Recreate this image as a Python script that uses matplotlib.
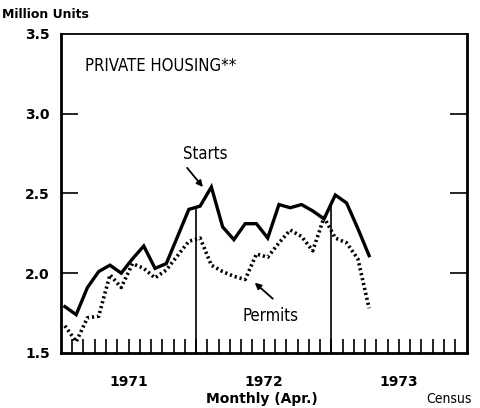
import numpy as np
import matplotlib.pyplot as plt
from matplotlib import font_manager

# monthly values, Jan 1971 .. Apr 1973 (million units, annual rate)
starts = [1.79, 1.74, 1.91, 2.01, 2.05, 2.00, 2.09, 2.17, 2.03, 2.06, 2.23, 2.40,
          2.42, 2.54, 2.29, 2.21, 2.31, 2.31, 2.22, 2.43, 2.41, 2.43, 2.39, 2.34,
          2.49, 2.44, 2.28, 2.11]
permits = [1.67, 1.57, 1.72, 1.73, 1.99, 1.91, 2.06, 2.03, 1.97, 2.02, 2.11, 2.20,
           2.22, 2.05, 2.01, 1.98, 1.96, 2.12, 2.10, 2.19, 2.27, 2.23, 2.14, 2.35,
           2.22, 2.19, 2.09, 1.78]
years = ["1971", "1972", "1973"]
yticks = [1.5, 2.0, 2.5, 3.0, 3.5]

# look for a narrow, regular-weight face for the label text
narrow = None
for f in font_manager.fontManager.ttflist:
    is_narrow = f.stretch in ("condensed", "semi-condensed") or "Condensed" in f.fname \
        or "Narrow" in f.name
    if is_narrow and f.style == "normal" and f.weight in (400, "normal", "regular", "book"):
        narrow = f
        break


def ntext(target, xx, yy, s, size, **kw):
    fp = font_manager.FontProperties(fname=narrow.fname, size=size) if narrow \
        else font_manager.FontProperties(family="Liberation Sans", size=size * 0.9)
    return target.text(xx, yy, s, fontproperties=fp, **kw)


fig = plt.figure(figsize=(4.8, 4.08), dpi=100)
ax = fig.add_axes([0.127, 0.135, 0.845, 0.782])

x = np.arange(len(starts)) + 0.35
ax.plot(x, starts, color="black", lw=2.4, solid_joinstyle="miter")
ax.plot(x, permits, color="black", lw=2.6, linestyle=(0, (0.6, 0.8)))

# year separators, up to the starts line
for b in [12, 24]:
    top = np.interp(b, x, starts)
    ax.plot([b, b], [1.5, top], color="black", lw=1.2)

ax.set_xlim(0, 36)
ax.set_ylim(1.5, 3.5)

ax.set_yticks(yticks)
ax.set_yticklabels([f"{v:.1f}" for v in yticks], fontsize=10, fontweight="bold")
ax.tick_params(axis="y", direction="in", length=12, width=1.2, right=True, pad=8)
for t in ax.yaxis.get_major_ticks():
    if t.get_loc() in (1.5, 3.5):
        t.tick1line.set_visible(False)
        t.tick2line.set_visible(False)

ax.set_xticks(np.arange(1, 36))
ax.set_xticklabels([])
ax.tick_params(axis="x", which="major", direction="in", length=10, width=1.2)
ax.set_xticks([6, 18, 30], minor=True)
ax.tick_params(axis="x", which="minor", direction="in", length=16, width=1.2)
for i, yr in enumerate(years):
    ax.text(6 + 12 * i, -0.09, yr, transform=ax.get_xaxis_transform(),
            ha="center", va="center", fontsize=10, fontweight="bold")

for s in ["left", "bottom", "right"]:
    ax.spines[s].set_linewidth(2)
ax.spines["top"].set_linewidth(1.3)

ntext(ax, 2.1, 3.3, "PRIVATE HOUSING**", 12, va="center", ha="left")

ntext(ax, 12.8, 2.75, "Starts", 12, ha="center", va="center")
ax.annotate("", xy=(12.6, 2.54), xytext=(11.2, 2.66),
            arrowprops=dict(arrowstyle="-|>", color="black", lw=1.3,
                            mutation_scale=9, shrinkA=0, shrinkB=0))
ntext(ax, 18.6, 1.73, "Permits", 12, ha="center", va="center")
ax.annotate("", xy=(17.2, 1.94), xytext=(18.8, 1.84),
            arrowprops=dict(arrowstyle="-|>", color="black", lw=1.3,
                            mutation_scale=9, shrinkA=0, shrinkB=0))

fig.text(0.005, 0.965, "Million Units", fontsize=9, fontweight="bold",
         ha="left", va="center")
fig.text(0.546, 0.022, "Monthly (Apr.)", fontsize=10, fontweight="bold",
         ha="center", va="center")
ntext(fig, 0.935, 0.022, "Census", 10, ha="center", va="center")

fig.savefig("out.png", dpi=100)
